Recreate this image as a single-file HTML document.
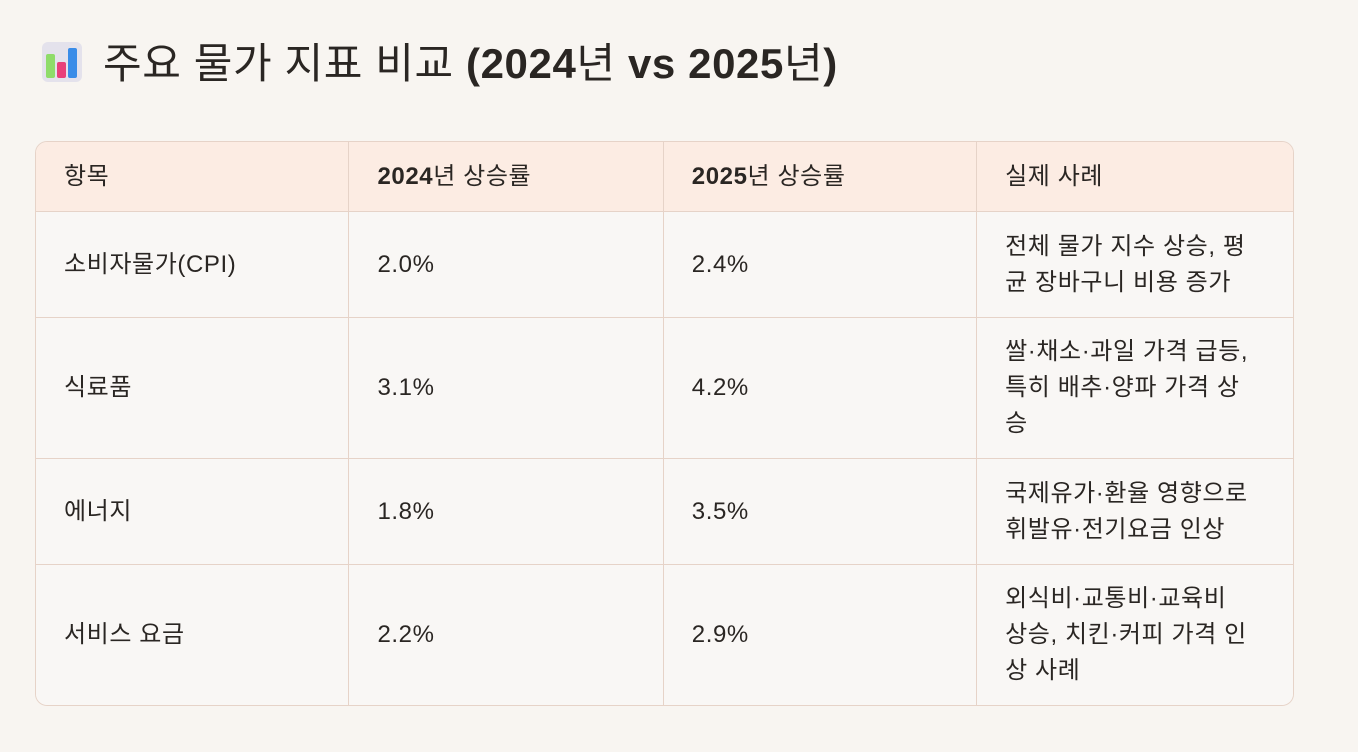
<!DOCTYPE html>
<html><head><meta charset="utf-8"><style>
body{margin:0;width:1358px;height:752px;background:#f8f5f1;font-family:"Liberation Sans","Noto Sans CJK KR",sans-serif;color:#2a2623;position:relative;overflow:hidden}
h1{position:absolute;left:103px;top:36px;margin:0;font-size:42px;font-weight:400;line-height:56px;white-space:nowrap;letter-spacing:0.6px}
h1 b{font-weight:700}
.icon{position:absolute;left:42px;top:42px;width:40px;height:40px;border-radius:6px;background:#e4e2ec}
.icon i{position:absolute;bottom:4px;width:9px;border-radius:2px}
table{position:absolute;left:35px;top:141px;width:1259px;border-collapse:separate;border-spacing:0;border:1px solid #e6d3c8;border-radius:12px;overflow:hidden;font-size:24px;letter-spacing:0.6px}
td,th{border-right:1px solid #e6d3c8;border-bottom:1px solid #e6d3c8;padding:0 28px;text-align:left;vertical-align:middle;line-height:36px;background:#f9f7f5;white-space:nowrap}
th{background:#fcece3;font-weight:400;height:69px}
th b{font-weight:700}
tr td:last-child,tr th:last-child{border-right:none}
tr:last-child td{border-bottom:none}
</style></head><body>
<div class="icon"><i style="left:4px;height:24px;background:#8fdc6a"></i><i style="left:15px;height:16px;background:#e8407a"></i><i style="left:26px;height:30px;background:#3a8ce8"></i></div>
<h1>주요 물가 지표 비교 <b>(2024</b>년 <b>vs 2025</b>년<b>)</b></h1>
<table>
<colgroup><col style="width:314px"><col style="width:315px"><col style="width:314px"><col style="width:316px"></colgroup>
<tr><th>항목</th><th><b>2024</b>년 상승률</th><th><b>2025</b>년 상승률</th><th>실제 사례</th></tr>
<tr><td style="height:105px">소비자물가(CPI)</td><td>2.0%</td><td>2.4%</td><td>전체 물가 지수 상승, 평<br>균 장바구니 비용 증가</td></tr>
<tr><td style="height:140px">식료품</td><td>3.1%</td><td>4.2%</td><td>쌀·채소·과일 가격 급등,<br>특히 배추·양파 가격 상<br>승</td></tr>
<tr><td style="height:105px">에너지</td><td>1.8%</td><td>3.5%</td><td>국제유가·환율 영향으로<br>휘발유·전기요금 인상</td></tr>
<tr><td style="height:140px">서비스 요금</td><td>2.2%</td><td>2.9%</td><td>외식비·교통비·교육비<br>상승, 치킨·커피 가격 인<br>상 사례</td></tr>
</table>
</body></html>
